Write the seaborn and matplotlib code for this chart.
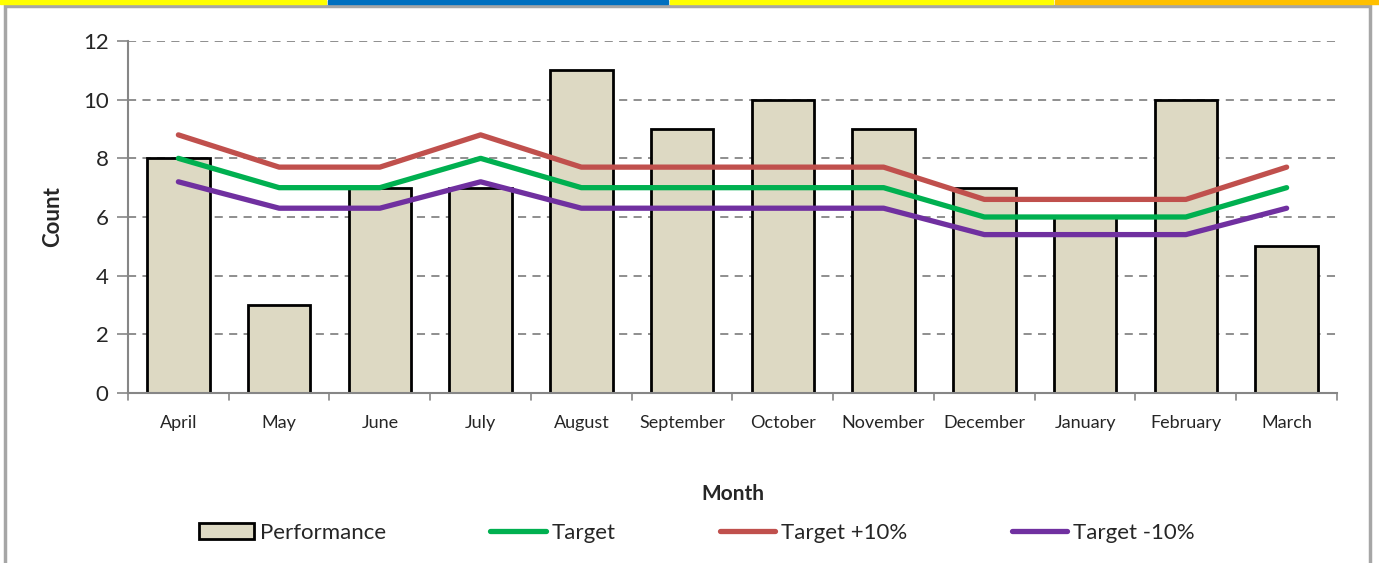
import matplotlib
matplotlib.use("Agg")
import matplotlib.pyplot as plt
from matplotlib.patches import Rectangle
import seaborn as sns
import pandas as pd

months = ["April", "May", "June", "July", "August", "September", "October",
          "November", "December", "January", "February", "March"]
performance = [8, 3, 7, 7, 11, 9, 10, 9, 7, 6, 10, 5]
target = [8, 7, 7, 8, 7, 7, 7, 7, 6, 6, 6, 7]
target_plus = [8.8, 7.7, 7.7, 8.8, 7.7, 7.7, 7.7, 7.7, 6.6, 6.6, 6.6, 7.7]
target_minus = [7.2, 6.3, 6.3, 7.2, 6.3, 6.3, 6.3, 6.3, 5.4, 5.4, 5.4, 6.3]
y_ticks = [0, 2, 4, 6, 8, 10, 12]

sns.set_theme(style="white")
plt.rcParams['font.family'] = ['Lato', 'DejaVu Sans']

df = pd.DataFrame({"Month": months, "Performance": performance,
                   "Target": target, "Target +10%": target_plus,
                   "Target -10%": target_minus})

fig = plt.figure(figsize=(13.79, 5.63), dpi=100)
ax = fig.add_axes([128/1379, 1-393/563, (1337-128)/1379, (393-41)/563])

sns.barplot(data=df, x="Month", y="Performance", ax=ax, color="#DDD9C3",
            edgecolor="black", linewidth=2, width=0.62, saturation=1,
            label="Performance", zorder=2)

line_styles = [("Target", "#00B050"), ("Target +10%", "#C0504D"), ("Target -10%", "#7030A0")]
for col, c in line_styles:
    sns.lineplot(data=df, x="Month", y=col, ax=ax, color=c, linewidth=3.8,
                 sort=False, label=col, zorder=3, solid_capstyle="round")

ax.set_xlim(-0.5, len(months) - 0.5)
ax.set_ylim(0, 12)
ax.set_yticks(y_ticks)
ax.set_yticklabels([str(v) for v in y_ticks], fontsize=16)
ax.tick_params(axis="x", labelsize=13, length=0, pad=16)
ax.tick_params(axis="y", length=8, width=1.2, color="#868686", left=True, pad=6)
ax.yaxis.grid(True, linestyle=(0, (4.5, 3.5)), color="#868686", linewidth=1.3, zorder=0)
ax.set_axisbelow(True)

# category boundary tick marks on x axis
for b in range(len(months) + 1):
    ax.plot([b - 0.5, b - 0.5], [0, -0.25], color="#868686", lw=1.2,
            clip_on=False, zorder=1)

for s in ["top", "right"]:
    ax.spines[s].set_visible(False)
for s in ["left", "bottom"]:
    ax.spines[s].set_color("#868686")
    ax.spines[s].set_linewidth(1.5)

ax.set_ylabel("Count", fontsize=16, fontweight="bold", labelpad=14)
ax.set_xlabel("Month", fontsize=15, fontweight="bold", labelpad=38)

if ax.get_legend():
    ax.get_legend().remove()
handles, labels = ax.get_legend_handles_labels()
order = [labels.index(n) for n in ["Performance", "Target", "Target +10%", "Target -10%"]]
handles = [handles[i] for i in order]
labels = [labels[i] for i in order]
fig.legend(handles, labels, loc="center", bbox_to_anchor=(0.505, 1-533/563),
           ncol=4, frameon=False, fontsize=16, handlelength=2.5,
           handletextpad=0.25, columnspacing=4.7)

# outer frame and top strip
fig.patches.append(Rectangle((5/1379, -0.01), 1365/1379, 1 - 6/563 + 0.01,
                             transform=fig.transFigure, fill=False,
                             edgecolor="#A6A6A6", linewidth=2.5, zorder=0))
strips = [(0, 326, "#FFFF00"), (328, 668, "#0070C0"), (670, 1053, "#FFFF00"), (1055, 1379, "#FFC000")]
for x0, x1, c in strips:
    fig.patches.append(Rectangle((x0/1379, 1 - 4/563), (x1 - x0)/1379, 4/563,
                                 transform=fig.transFigure, color=c, zorder=1))

fig.savefig("out.png", dpi=100)
